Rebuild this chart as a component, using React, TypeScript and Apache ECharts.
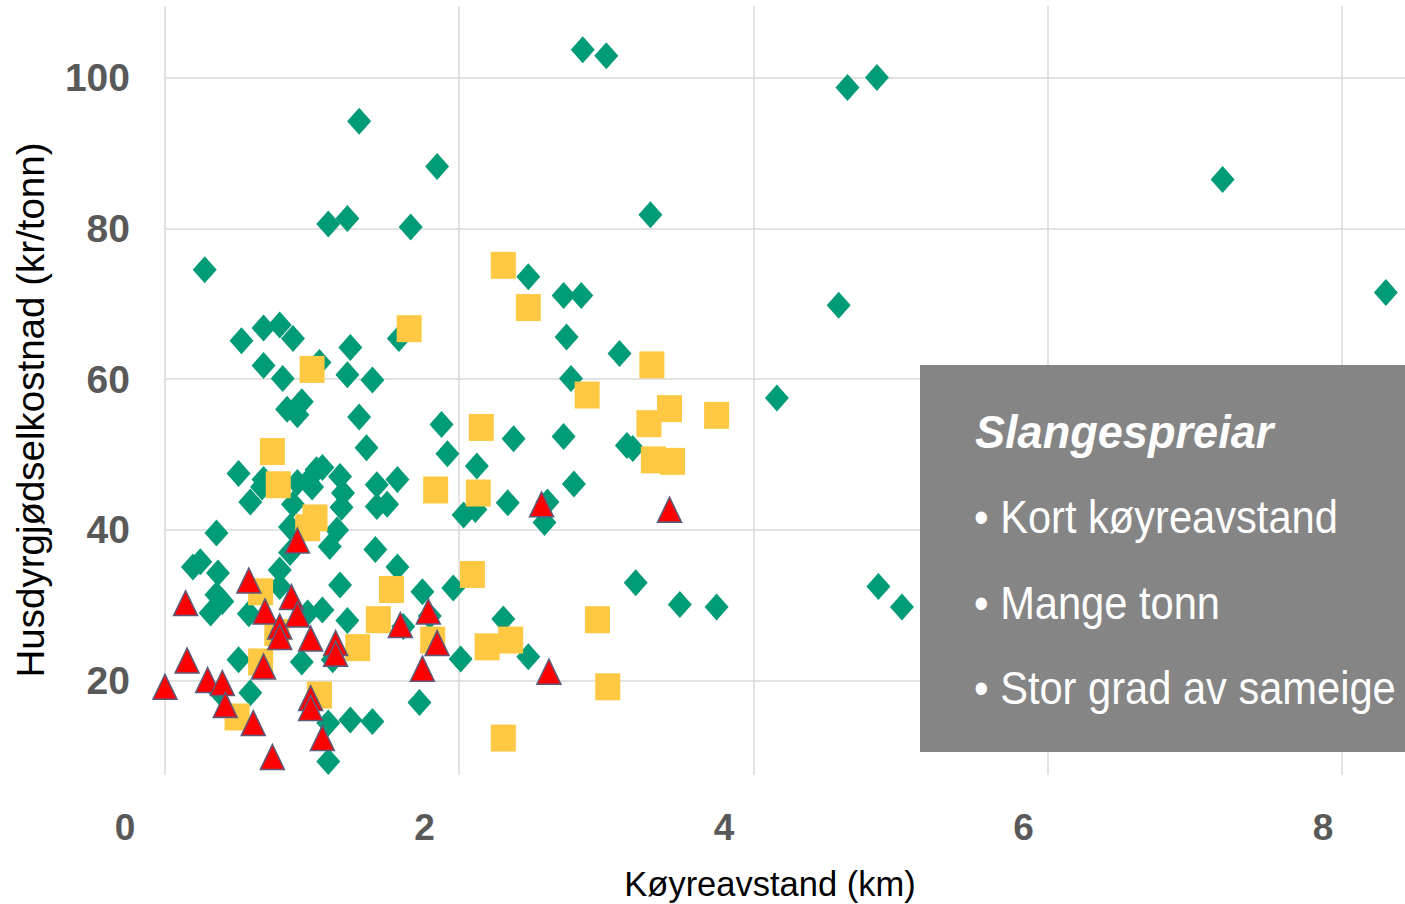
import React, { useEffect, useRef } from "react";
import * as echarts from "echarts";

// Køyreavstand (km) vs Husdyrgjødselkostnad (kr/tonn)
const diamondPoints: [number, number][] = [
  [2.84, 103.7], [3.0, 102.9], [1.32, 94.2], [1.85, 88.2], [0.27, 74.5],
  [1.11, 80.6], [1.24, 81.3], [1.67, 80.2], [3.3, 81.8], [2.47, 73.6],
  [4.64, 98.7], [4.84, 100.0], [7.19, 86.5], [8.3, 71.5], [4.58, 69.8],
  [4.16, 57.5], [4.85, 32.5], [5.01, 29.8], [2.71, 71.1], [2.83, 71.1],
  [2.73, 65.6], [3.09, 63.4], [2.76, 60.1], [1.88, 54.0], [1.92, 50.1],
  [2.37, 52.1], [2.71, 52.4], [2.12, 48.5], [3.14, 51.2], [3.18, 50.8],
  [2.78, 46.1], [2.33, 43.6], [2.03, 42.0], [2.11, 42.7], [2.6, 43.7],
  [2.58, 41.0], [3.2, 33.0], [1.96, 32.3], [3.5, 30.1], [3.75, 29.8],
  [2.3, 28.2], [2.01, 22.9], [2.47, 23.2],
  [0.52, 65.1], [0.67, 66.8], [0.78, 67.2], [0.87, 65.4], [1.26, 64.2],
  [1.59, 65.4], [0.67, 61.8], [0.8, 60.1], [1.05, 62.2], [1.24, 60.6],
  [1.41, 59.9], [0.83, 56.0], [0.93, 57.0], [0.9, 55.3], [1.32, 55.0],
  [1.37, 50.9], [0.5, 47.5], [0.67, 46.7], [0.58, 43.7], [0.66, 45.7],
  [0.9, 46.3], [0.97, 46.4], [1.03, 48.0], [1.07, 48.3], [1.0, 45.7],
  [1.19, 47.1], [1.21, 44.9], [1.2, 43.0], [1.44, 46.0], [1.58, 46.7],
  [1.44, 43.1], [1.51, 43.4], [0.87, 43.4], [1.17, 40.0], [0.35, 39.6],
  [0.85, 40.4], [1.12, 37.8], [1.43, 37.4], [0.85, 37.0], [0.78, 34.7],
  [0.36, 34.3], [1.58, 35.1], [0.24, 35.8], [0.19, 35.1], [0.35, 31.4],
  [0.39, 30.5], [0.31, 29.0], [0.57, 28.9], [0.78, 32.5], [1.19, 32.7],
  [1.07, 29.4], [1.24, 28.0], [0.97, 29.0], [1.75, 31.8], [1.62, 27.2],
  [1.8, 28.6], [0.5, 22.8], [0.93, 22.5], [1.14, 22.8], [0.58, 18.4],
  [0.37, 18.5], [1.11, 14.4], [1.26, 14.8], [1.41, 14.6], [1.73, 17.1],
  [1.11, 9.3],
];

const squarePoints: [number, number][] = [
  [2.3, 75.1], [2.47, 69.5], [1.66, 66.7], [1.0, 61.3], [3.31, 61.9],
  [2.87, 57.9], [3.43, 56.1], [3.75, 55.2], [3.29, 54.1], [2.15, 53.6],
  [3.32, 49.3], [3.45, 49.1], [0.73, 50.4], [0.77, 46.0], [1.84, 45.3],
  [2.13, 44.9], [1.02, 41.6], [0.97, 40.3], [2.09, 34.1], [1.54, 32.1],
  [0.65, 31.8], [1.45, 28.1], [1.31, 24.4], [1.82, 25.4], [0.65, 22.5],
  [0.76, 26.4], [2.19, 24.5], [2.35, 25.4], [2.94, 28.1], [3.01, 19.2],
  [2.3, 12.4], [1.05, 18.1], [0.49, 15.2],
];

const trianglePoints: [number, number][] = [
  [0.9, 38.6], [0.57, 33.3], [0.14, 30.3], [0.68, 29.2], [0.86, 31.1],
  [0.9, 28.8], [0.78, 27.2], [0.78, 25.8], [0.99, 25.6], [1.16, 25.0],
  [1.16, 23.6], [0.67, 21.9], [0.15, 22.7], [0.0, 19.2], [0.29, 20.1],
  [0.39, 19.7], [0.41, 16.8], [0.6, 14.4], [0.73, 9.9], [0.99, 17.7],
  [0.99, 16.4], [1.07, 12.4], [1.6, 27.4], [1.79, 29.2], [1.85, 25.0],
  [1.75, 21.6], [2.56, 43.4], [3.43, 42.7], [2.61, 21.2],
];

const xTickLabels = ["0", "2", "4", "6", "8"];
const yTickValues = [20, 40, 60, 80, 100];

const xTitle = "Køyreavstand (km)";
const yTitle = "Husdyrgjødselkostnad (kr/tonn)";
const boxTitle = "Slangespreiar";
const boxBullets = ["Kort køyreavstand", "Mange tonn", "Stor grad av sameige"];

const FONT = '"Liberation Sans", Arial, sans-serif';
const NARROW = '"Liberation Sans Narrow", "Arial Narrow", "Liberation Sans", Arial, sans-serif';

export default function App() {
  const ref = useRef<HTMLDivElement | null>(null);

  useEffect(() => {
    if (!ref.current) return;
    const chart = echarts.init(ref.current, undefined, { renderer: "svg" });
    const gridColor = "#d9d9d9";
    const option: any = {
      animation: false,
      backgroundColor: "#ffffff",
      textStyle: { fontFamily: FONT },
      grid: [
        { left: 165, right: 0, top: 6, bottom: 129 },
        { left: 125, width: 1198, top: 6, bottom: 129 },
      ],
      xAxis: [
        {
          type: "value",
          gridIndex: 0,
          min: 0,
          max: 8.43,
          interval: 2,
          axisLine: { show: false },
          axisTick: { show: false },
          axisLabel: { show: false },
          splitLine: {
            show: true,
            showMaxLine: false,
            lineStyle: { color: gridColor, width: 1.5 },
          },
        },
        {
          type: "value",
          gridIndex: 1,
          min: 0,
          max: 8,
          interval: 2,
          axisLine: { show: false },
          axisTick: { show: false },
          splitLine: { show: false },
          axisLabel: {
            show: true,
            margin: 34,
            fontSize: 37,
            fontWeight: "bold",
            color: "#595959",
            fontFamily: FONT,
            formatter: (v: number) => {
              const i = xTickLabels.indexOf(String(v));
              return i >= 0 ? xTickLabels[i] : "";
            },
          },
        },
      ],
      yAxis: [
        {
          type: "value",
          gridIndex: 0,
          min: 7.5,
          max: 109.5,
          splitNumber: 5,
          axisLine: { show: false },
          axisTick: { show: false },
          axisLabel: {
            show: true,
            showMinLabel: false,
            showMaxLabel: false,
            margin: 35,
            fontSize: 39,
            fontWeight: "bold",
            color: "#595959",
            fontFamily: NARROW,
            formatter: (v: number) => (yTickValues.indexOf(v) >= 0 ? String(v) : ""),
          },
          splitLine: {
            show: true,
            showMinLine: false,
            showMaxLine: false,
            lineStyle: { color: gridColor, width: 1.5 },
          },
        },
        { type: "value", gridIndex: 1, show: false, min: 0, max: 1 },
      ],
      series: [
        {
          type: "scatter",
          name: "diamond",
          xAxisIndex: 0,
          yAxisIndex: 0,
          data: diamondPoints,
          symbol: "diamond",
          symbolSize: [24, 27],
          itemStyle: { color: "#009b77", opacity: 1 },
          z: 2,
        },
        {
          type: "scatter",
          name: "square",
          xAxisIndex: 0,
          yAxisIndex: 0,
          data: squarePoints,
          symbol: "rect",
          symbolSize: [25, 27],
          itemStyle: { color: "#ffc842", opacity: 1 },
          z: 3,
        },
        {
          type: "scatter",
          name: "triangle",
          xAxisIndex: 0,
          yAxisIndex: 0,
          data: trianglePoints,
          symbol: "triangle",
          symbolSize: [24, 25],
          itemStyle: { color: "#ff0000", borderColor: "#5b5b7b", borderWidth: 1.5, opacity: 1 },
          z: 4,
        },
      ],
      graphic: [
        {
          type: "text",
          x: 30,
          y: 410,
          rotation: Math.PI / 2,
          style: {
            text: yTitle,
            fontSize: 38.5,
            fontFamily: FONT,
            fill: "#000000",
            align: "center",
            verticalAlign: "middle",
          },
        },
        {
          type: "text",
          x: 770,
          y: 884,
          style: {
            text: xTitle,
            fontSize: 34.5,
            fontFamily: FONT,
            fill: "#000000",
            align: "center",
            verticalAlign: "middle",
          },
        },
        {
          type: "rect",
          shape: { x: 920, y: 365, width: 485, height: 387 },
          style: { fill: "#858585" },
          z: 100,
        },
        {
          type: "text",
          x: 975,
          y: 432,
          scaleX: 0.96,
          z: 101,
          style: {
            text: boxTitle,
            fontSize: 47,
            fontWeight: "bold",
            fontStyle: "italic",
            fontFamily: FONT,
            fill: "#ffffff",
            align: "left",
            verticalAlign: "middle",
          },
        },
        ...boxBullets.map((t, i) => ({
          type: "text",
          x: 974,
          y: [517, 603, 688][i],
          scaleX: 0.905,
          z: 101,
          style: {
            text: "• " + t,
            fontSize: 46,
            fontFamily: FONT,
            fill: "#ffffff",
            align: "left",
            verticalAlign: "middle",
          },
        })),
      ],
    };
    chart.setOption(option);
    return () => chart.dispose();
  }, []);

  return (
    <div
      ref={ref}
      style={{ position: "fixed", left: 0, top: 0, width: 1405, height: 904, background: "#fff" }}
    />
  );
}
